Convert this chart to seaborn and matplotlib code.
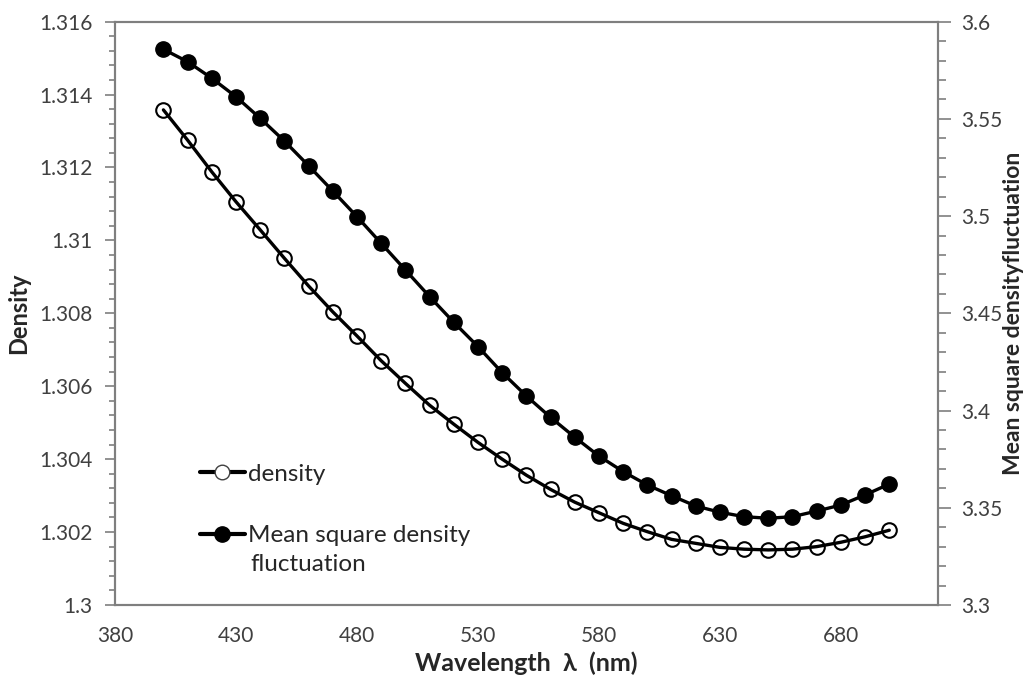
""" Density and mean square density fluctuation vs wavelength """

import matplotlib
matplotlib.use("Agg")
import matplotlib.pyplot as plt  # For building plots
import seaborn as sns  # For visualization
from matplotlib.ticker import MultipleLocator, FixedLocator, FuncFormatter
from matplotlib.lines import Line2D

# Data
wavelength = [400, 410, 420, 430, 440, 450, 460, 470, 480, 490, 500,
              510, 520, 530, 540, 550, 560, 570, 580, 590, 600,
              610, 620, 630, 640, 650, 660, 670, 680, 690, 700]
density = [1.31358, 1.31275, 1.31188, 1.31106, 1.31029, 1.30951, 1.30875,
           1.30804, 1.30738, 1.30670, 1.30608, 1.30548, 1.30496, 1.30446,
           1.30400, 1.30356, 1.30317, 1.30282, 1.30253, 1.30224, 1.30201,
           1.30180, 1.30169, 1.30158, 1.30153, 1.30151, 1.30153, 1.30160,
           1.30172, 1.30187, 1.30205]
msd_fluct = [3.5858, 3.5794, 3.5709, 3.5614, 3.5503, 3.5386, 3.5259,
             3.5129, 3.4997, 3.4860, 3.4723, 3.4586, 3.4454, 3.4329,
             3.4195, 3.4075, 3.3965, 3.3863, 3.3766, 3.3686, 3.3617,
             3.3562, 3.3509, 3.3477, 3.3454, 3.3446, 3.3454, 3.3483,
             3.3514, 3.3566, 3.3622]

x_ticks = [380, 430, 480, 530, 580, 630, 680]

sns.set_style("white")
plt.rcParams["font.family"] = ["Lato", "DejaVu Sans"]

spine_col = "#7f7f7f"
tick_txt = "#404040"
leg_txt = "#262626"

fig = plt.figure(figsize=(10.26, 6.77), dpi=100)
ax = fig.add_axes([0.1121, 0.1064, 0.8018, 0.8616])
ax2 = ax.twinx()

# Open circles: density (left axis)
sns.lineplot(x=wavelength, y=density, ax=ax, color="black", linewidth=2.4,
             marker="o", markersize=10.5, markerfacecolor="none",
             markeredgecolor="black", markeredgewidth=1.5)
# Filled circles: mean square density fluctuation (right axis)
sns.lineplot(x=wavelength, y=msd_fluct, ax=ax2, color="black", linewidth=2.4,
             marker="o", markersize=11, markerfacecolor="black",
             markeredgecolor="black", markeredgewidth=1.0)

ax.set_xlim(380, 720)
ax.set_ylim(1.3, 1.316)
ax2.set_ylim(3.3, 3.6)

fmt = FuncFormatter(lambda v, p: f"{v:g}")
ax.xaxis.set_major_locator(FixedLocator(x_ticks))
ax.xaxis.set_minor_locator(MultipleLocator(10))
ax.yaxis.set_major_locator(MultipleLocator(0.002))
ax.yaxis.set_minor_locator(MultipleLocator(0.0004))
ax.yaxis.set_major_formatter(fmt)
ax2.yaxis.set_major_locator(MultipleLocator(0.05))
ax2.yaxis.set_minor_locator(MultipleLocator(0.01))
ax2.yaxis.set_major_formatter(fmt)

ax.tick_params(axis="x", which="major", direction="inout", length=14, width=1.2,
               color=spine_col, labelsize=15, labelcolor=tick_txt, pad=8)
ax.tick_params(axis="x", which="minor", direction="in", length=6, width=1.2,
               color=spine_col)
ax.tick_params(axis="y", which="major", direction="out", length=7, width=1.2,
               color=spine_col, labelsize=15, labelcolor=tick_txt, pad=9)
ax.tick_params(axis="y", which="minor", direction="out", length=4.5, width=1.2,
               color=spine_col)
ax2.tick_params(axis="y", which="major", direction="out", length=9, width=1.2,
                color=spine_col, labelsize=15, labelcolor=tick_txt, pad=8)
ax2.tick_params(axis="y", which="minor", direction="out", length=5.5, width=1.2,
                color=spine_col)

for a in (ax, ax2):
    for s in a.spines.values():
        s.set_color(spine_col)
        s.set_linewidth(1.5)
        s.set_visible(True)

ax.set_xlabel("Wavelength  λ  (nm)", fontsize=18, fontweight="bold")
ax.set_ylabel("Density", fontsize=17, fontweight="bold")
ax2.set_ylabel("Mean square densityfluctuation", fontsize=16.5, fontweight="bold")
ax.xaxis.set_label_coords(0.5, -0.08)
ax.yaxis.set_label_coords(-0.1033, 0.5)
ax2.yaxis.set_label_coords(1.079, 0.5)

# Legend (handle sits on the first line of the two-line label, as in the source)
handles = [Line2D([], [], color="black", lw=3, marker="o", markersize=10.5,
                  markerfacecolor="white", markeredgecolor="#404040", markeredgewidth=1.0),
           Line2D([], [], color="black", lw=3, marker="o", markersize=11,
                  markerfacecolor="black", markeredgecolor="black")]
leg = ax.legend(handles, ["density", "Mean square density"], loc="upper left",
                bbox_to_anchor=(0.1033, 0.242), frameon=False, fontsize=17.5,
                handlelength=1.85, handletextpad=0.12, labelspacing=1.67,
                borderpad=0, borderaxespad=0)
for t in leg.get_texts():
    t.set_color(leg_txt)
ax.text(0.164, 0.0686, "fluctuation", transform=ax.transAxes, fontsize=17.5,
        color=leg_txt, va="center", ha="left")

fig.savefig("out.png", dpi=100)
